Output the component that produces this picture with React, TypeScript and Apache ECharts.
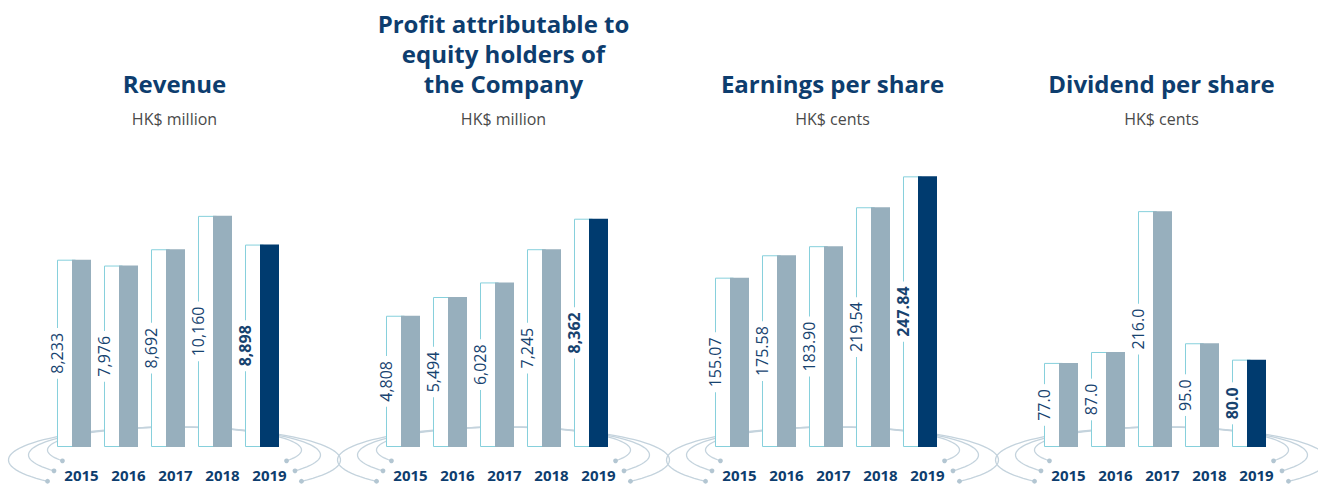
import React, { useEffect, useRef } from "react";
import * as echarts from "echarts";

const years = ["2015", "2016", "2017", "2018", "2019"];
const revenue = [8233, 7976, 8692, 10160, 8898];
const profit = [4808, 5494, 6028, 7245, 8362];
const eps = [155.07, 175.58, 183.9, 219.54, 247.84];
const dps = [77.0, 87.0, 216.0, 95.0, 80.0];
const titles = [
  "Revenue",
  "Profit attributable to\nequity holders of\nthe Company",
  "Earnings per share",
  "Dividend per share",
];
const units = ["HK$ million", "HK$ million", "HK$ cents", "HK$ cents"];
const axisMax = [12000, 10000, 250, 250];
const decimals = [0, 0, 2, 1];
const panels = [revenue, profit, eps, dps];

const PANEL_W = 329;
const GRID_LEFT0 = 50.5;
const GRID_W = 235;
const GRID_TOP = 174;
const GRID_H = 273;
const CENTER0 = 174.5;
const FONT = "'Open Sans', 'Noto Sans', sans-serif";

const NAVY_TEXT = "#0d3d6e";
const OUTLINE = "#86d0dc";
const GREY_BAR = "#97afbd";
const NAVY_BAR = "#003b6f";
const DECO = "#c4d3dd";

function fmt(v: number, d: number) {
  if (d === 0) return v.toLocaleString("en-US");
  return v.toFixed(d);
}

function ellipseArc(cx: number, cy: number, rx: number, ry: number, a: number) {
  const pts: number[][] = [];
  const start = Math.PI - a;
  const end = 2 * Math.PI + a;
  const n = 80;
  for (let i = 0; i <= n; i++) {
    const t = start + ((end - start) * i) / n;
    pts.push([cx + rx * Math.cos(t), cy + ry * Math.sin(t)]);
  }
  return pts;
}

const rings = [
  { rx: 127, ry: 23, cy: 450, a: 0.49 },
  { rx: 146, ry: 28, cy: 455, a: 0.6 },
  { rx: 166, ry: 33, cy: 460, a: 0.7 },
];

function buildOption() {
  const grid: any[] = [];
  const xAxis: any[] = [];
  const yAxis: any[] = [];
  const series: any[] = [];
  const title: any[] = [];
  const graphic: any[] = [];

  panels.forEach((vals, k) => {
    const cx = CENTER0 + PANEL_W * k;
    grid.push({ left: GRID_LEFT0 + PANEL_W * k, top: GRID_TOP, width: GRID_W, height: GRID_H });
    xAxis.push({ type: "category", gridIndex: k, data: years, show: false });
    yAxis.push({ type: "value", gridIndex: k, min: 0, max: axisMax[k], show: false, splitLine: { show: false } });

    const lines = titles[k].split("\n").length;
    title.push({
      text: titles[k],
      left: cx,
      top: 83 - 15 - (lines - 1) * 30,
      textAlign: "center",
      padding: 0,
      textStyle: { fontFamily: FONT, fontSize: 24, fontWeight: "bold", color: NAVY_TEXT, lineHeight: 30 },
    });
    title.push({
      text: units[k],
      left: cx,
      top: 109,
      textAlign: "center",
      padding: 0,
      textStyle: { fontFamily: FONT, fontSize: 16, fontWeight: "normal", color: "#4a4a4a", lineHeight: 20 },
    });

    rings.forEach((r) => {
      const pts = ellipseArc(cx, r.cy, r.rx, r.ry, r.a);
      graphic.push({
        type: "polyline",
        z: 0,
        silent: true,
        shape: { points: pts },
        style: { stroke: DECO, lineWidth: 1.3, fill: null },
      });
      [pts[0], pts[pts.length - 1]].forEach((p) => {
        graphic.push({
          type: "circle",
          z: 0,
          silent: true,
          shape: { cx: p[0], cy: p[1], r: 2.4 },
          style: { fill: "#b3c6d2" },
        });
      });
    });

    series.push({
      type: "bar",
      xAxisIndex: k,
      yAxisIndex: k,
      barWidth: 19,
      barGap: "-21.05%",
      z: 2,
      itemStyle: { color: "#ffffff", borderColor: OUTLINE, borderWidth: 1 },
      label: {
        show: true,
        position: [0, "50%"],
        rotate: 90,
        align: "center",
        verticalAlign: "middle",
        backgroundColor: "#ffffff",
        padding: [0, 5],
        fontFamily: FONT,
        fontSize: 16,
        color: "#17436f",
        formatter: (p: any) => fmt(p.value, decimals[k]),
      },
      data: vals.map((v, i) => ({
        value: v,
        label: { fontWeight: i === vals.length - 1 ? "bold" : "normal" },
      })),
    });
    series.push({
      type: "bar",
      xAxisIndex: k,
      yAxisIndex: k,
      barWidth: 19,
      barGap: "-21.05%",
      z: 3,
      label: {
        show: true,
        position: "bottom",
        distance: 20,
        formatter: "{b}",
        fontFamily: FONT,
        fontSize: 15,
        lineHeight: 16,
        fontWeight: "bold",
        color: NAVY_TEXT,
      },
      data: vals.map((v, i) => ({
        value: v,
        itemStyle: { color: i === vals.length - 1 ? NAVY_BAR : GREY_BAR },
      })),
    });
  });

  return {
    animation: false,
    backgroundColor: "#ffffff",
    title,
    grid,
    xAxis,
    yAxis,
    series,
    graphic,
  };
}

export default function App() {
  const ref = useRef<HTMLDivElement>(null);
  useEffect(() => {
    if (!ref.current) return;
    const chart = echarts.init(ref.current, undefined, { renderer: "svg" });
    chart.setOption(buildOption() as any);
    return () => chart.dispose();
  }, []);
  return (
    <div
      ref={ref}
      style={{ position: "absolute", left: 0, top: 0, width: 1318, height: 484 }}
    />
  );
}
